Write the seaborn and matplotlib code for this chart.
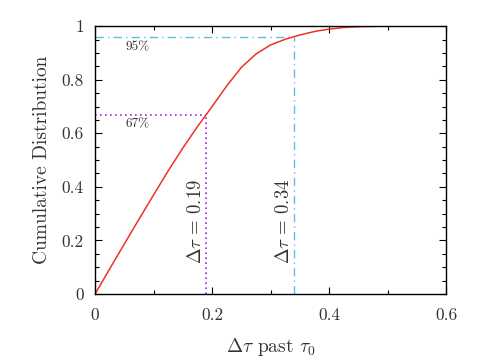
import numpy as np
import pandas as pd
import matplotlib
matplotlib.use("Agg")
import matplotlib.pyplot as plt
from matplotlib.ticker import MultipleLocator
import seaborn as sns

# valori
dtau = [0, 0.025, 0.05, 0.075, 0.1, 0.125, 0.15, 0.175, 0.2, 0.225, 0.25,
        0.275, 0.3, 0.325, 0.35, 0.375, 0.4, 0.425, 0.45, 0.5, 0.55, 0.6]
cdf = [0, 0.094, 0.187, 0.279, 0.37, 0.46, 0.545, 0.625, 0.70, 0.777, 0.846,
       0.896, 0.930, 0.951, 0.967, 0.980, 0.989, 0.995, 0.998, 1.0, 1.0, 1.0]

q67 = (0.19, 0.67)
q95 = (0.34, 0.958)

xticks = [0, 0.2, 0.4, 0.6]
xtick_labels = ["0", "0.2", "0.4", "0.6"]
yticks = [0, 0.2, 0.4, 0.6, 0.8, 1.0]
ytick_labels = ["0", "0.2", "0.4", "0.6", "0.8", "1"]

df = pd.DataFrame({"dtau": dtau, "cdf": cdf})

sns.set_style("ticks")
plt.rcParams["font.family"] = "serif"
plt.rcParams["font.serif"] = ["cmr10", "DejaVu Serif"]
plt.rcParams["mathtext.fontset"] = "cm"
plt.rcParams["axes.unicode_minus"] = False

fig = plt.figure(figsize=(4.85, 3.63), dpi=100)
ax = fig.add_axes([0.196, 0.19, 0.724, 0.738])

purple = "#a41ff0"
cyan = "#5cbfea"
txt = "#333333"

# linee dei quantili
ax.plot([0, q67[0]], [q67[1], q67[1]], color=purple, ls=(0, (1, 2)), lw=1.2)
ax.plot([q67[0], q67[0]], [0, q67[1]], color=purple, ls=(0, (1, 2)), lw=1.2)
ax.plot([0, q95[0]], [q95[1], q95[1]], color=cyan, ls=(0, (6, 3, 1, 3)), lw=1)
ax.plot([q95[0], q95[0]], [0, q95[1]], color=cyan, ls=(0, (6, 3, 1, 3)), lw=1)

sns.lineplot(data=df, x="dtau", y="cdf", color="#ee3322", lw=1.1, ax=ax)

ax.text(0.072, q95[1] - 0.037, "95%", fontsize=9.5, color=txt, ha="center", va="center")
ax.text(0.072, q67[1] - 0.035, "67%", fontsize=9.5, color=txt, ha="center", va="center")
ax.text(0.173, 0.27, r"$\Delta\tau\,=\,0.19$", fontsize=13.5, rotation=90,
        color=txt, ha="center", va="center")
ax.text(0.323, 0.27, r"$\Delta\tau\,=\,0.34$", fontsize=13.5, rotation=90,
        color=txt, ha="center", va="center")

ax.set_xlim(0, 0.6)
ax.set_ylim(0, 1)
ax.set_xticks(xticks)
ax.set_xticklabels(xtick_labels)
ax.set_yticks(yticks)
ax.set_yticklabels(ytick_labels)
ax.xaxis.set_minor_locator(MultipleLocator(0.1))
ax.yaxis.set_minor_locator(MultipleLocator(0.05))
ax.tick_params(which="both", direction="in", top=True, right=True,
               colors="black", labelcolor=txt, labelsize=12.5)
ax.tick_params(axis="x", which="major", pad=10)
ax.tick_params(axis="y", which="major", pad=8)
ax.tick_params(which="major", length=5, width=0.8)
ax.tick_params(which="minor", length=3, width=0.8)
for s in ax.spines.values():
    s.set_linewidth(1)
    s.set_color("black")

ax.set_xlabel(r"$\Delta\tau$ past $\tau_0$", fontsize=14, color=txt, labelpad=9)
ax.set_ylabel("Cumulative Distribution", fontsize=14, color=txt, labelpad=8)

fig.savefig("out.png", dpi=100)
